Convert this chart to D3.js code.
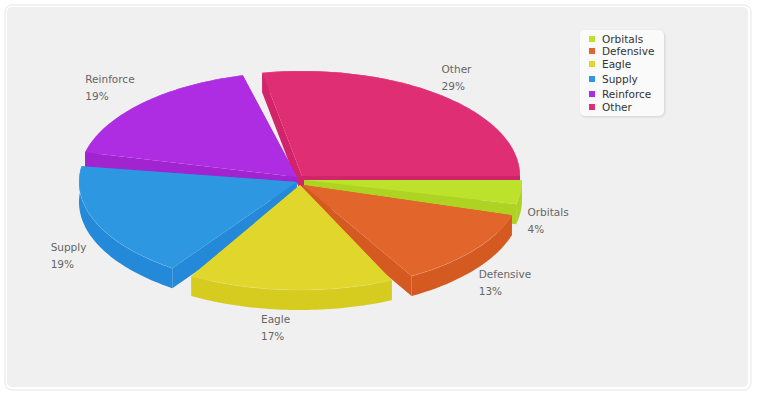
<!DOCTYPE html>
<html>
<head>
<meta charset="utf-8">
<script src="https://cdn.jsdelivr.net/npm/d3@7/dist/d3.min.js"></script>
<style>
  html, body { margin: 0; padding: 0; background: #fff; }
  text { font-family: "DejaVu Sans", sans-serif; }
</style>
</head>
<body>
<svg id="chart" width="760" height="400"></svg>
<script>
// values
var categories = ["Orbitals", "Defensive", "Eagle", "Supply", "Reinforce", "Other"];
var shares = [3.7, 13, 16.6, 19.1, 18.6, 29];
var topColors = ["#bce22c", "#e2652b", "#e0d62c", "#2d97e2", "#ae2de2", "#e02e75"];
var wallColors = ["#aed323", "#d55a22", "#d6cc20", "#2389d8", "#a223d0", "#d1246a"];

var w = 760;
var h = 400;
var cx = 300;
var cy = 181;
var rx = 218;
var ry = 105;
var depth = 20;

// how far each slice is pulled out of the pie, and where its label sits from the rim
var pull = [[4, -1], [3, 4], [0, 4], [-3, 1], [-3, -4], [2, -5]];
var labelShift = [[7, 24], [1, 30], [-39, 33], [-50, 23], [-50, -24], [6, -20]];
var legendRows = [39, 51, 64, 79, 94, 107];
var drawOrder = [5, 4, 0, 3, 1, 2];
// the slices do not close up: each one starts a little after the one before ends (degrees)
var startGap = [0, 3.4, 5, 5, 5, 3.9];

var svg = d3.select("#chart");

svg.append("rect").attr("x", 5).attr("y", 5).attr("width", 746).attr("height", 385)
  .attr("rx", 7).attr("fill", "#fff").attr("stroke", "#e6e6e6");
svg.append("rect").attr("x", 7).attr("y", 7).attr("width", 741).attr("height", 380)
  .attr("rx", 5).attr("fill", "#f0f0f0");

// d3 measures from 12 o'clock, the chart starts at 3 o'clock and goes clockwise
var pie = d3.pie().sort(null).startAngle(Math.PI / 2).endAngle(Math.PI * 2.5);
var slices = pie(shares);

var sx = d3.scaleLinear().domain([-1, 1]).range([-rx, rx]);
var sy = d3.scaleLinear().domain([-1, 1]).range([-ry, ry]);
var outline = d3.line();

function rim(a, i) {
  return [cx + pull[i][0] + sx(Math.sin(a)), cy + pull[i][1] - sy(Math.cos(a))];
}

function rimPoints(s, i) {
  var pts = [];
  var from = s.startAngle + startGap[i] * Math.PI / 180;
  var n = Math.ceil((s.endAngle - from) / 0.02);
  for (var k = 0; k <= n; k++) {
    pts.push(rim(from + (s.endAngle - from) * k / n, i));
  }
  return pts;
}

function lower(p) {
  return [p[0], p[1] + depth];
}

drawOrder.forEach(function(i) {
  var s = slices[i];
  var apex = [cx + pull[i][0], cy + pull[i][1]];
  var pts = rimPoints(s, i);
  var first = pts[0];
  var last = pts[pts.length - 1];
  var g = svg.append("g").attr("class", "slice");

  [first, last].forEach(function(p) {
    g.append("path")
      .attr("d", outline([apex, p, lower(p), lower(apex)]) + "Z")
      .attr("fill", wallColors[i]);
  });
  g.append("path")
    .attr("d", outline(pts.concat(pts.map(lower).reverse())) + "Z")
    .attr("fill", wallColors[i]);
  g.append("path")
    .attr("d", outline([apex].concat(pts)) + "Z")
    .attr("fill", topColors[i]);
  // faint light edge along the rim
  g.append("path")
    .attr("d", outline(pts))
    .attr("fill", "none")
    .attr("stroke", "#fff")
    .attr("stroke-opacity", 0.12);
});

slices.forEach(function(s, i) {
  var p = rim((s.startAngle + s.endAngle) / 2, i);
  var x = p[0] + labelShift[i][0];
  var y = p[1] + labelShift[i][1];
  var label = svg.append("text").attr("fill", "#666").attr("font-size", 10.5);
  label.append("tspan").attr("x", x).attr("y", y).text(categories[i]);
  label.append("tspan").attr("x", x).attr("y", y + 17).text(d3.format(".0f")(s.value) + "%");
});

var legend = svg.append("g").attr("class", "legend");
legend.append("rect").attr("x", 580).attr("y", 30).attr("width", 84).attr("height", 86)
  .attr("rx", 5).attr("fill", "#fafafa").style("filter", "drop-shadow(1px 1px 1px rgba(0,0,0,0.12))");
categories.forEach(function(name, i) {
  legend.append("rect").attr("x", 589).attr("y", legendRows[i] - 3).attr("width", 6).attr("height", 6)
    .attr("fill", topColors[i]);
  legend.append("text").attr("x", 602).attr("y", legendRows[i] + 4)
    .attr("font-size", 10.5).attr("fill", "#333").text(name);
});
</script>
</body>
</html>
